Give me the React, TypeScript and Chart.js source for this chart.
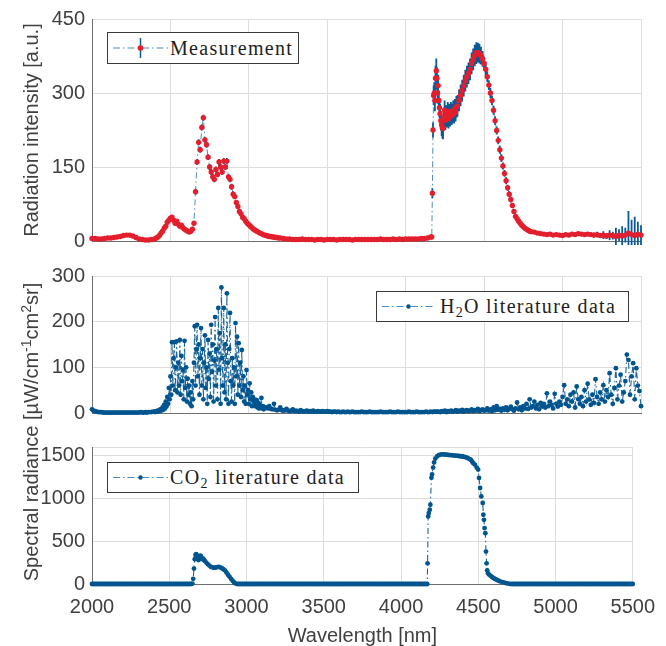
import React, { useEffect, useRef } from 'react';
import { Chart, registerables } from 'chart.js';

Chart.register(...registerables);

const range = (start: number, end: number, step: number): number[] => {
  const out: number[] = [];
  for (let v = start; v <= end + 1e-9; v += step) out.push(Math.round(v * 100) / 100);
  return out;
};

// ---------- axis ticks ----------
const wlTicks = [2000, 2500, 3000, 3500, 4000, 4500, 5000, 5500];
const measTicks = [0, 150, 300, 450];
const h2oTicks = [0, 100, 200, 300];
const co2Ticks = [0, 500, 1000, 1500, 1600];

// ---------- Measurement (panel 1) ----------
const measSeg4Wl = [4166, 4170, 4174, 4178, 4182, 4186, 4190, 4195, 4199, 4203, 4207, 4211, 4215, 4219, 4224, 4229, 4234, 4238, 4243, 4248, 4253, 4258, 4263, 4268, 4273, 4278, 4283, 4288, 4293, 4298, 4303, 4308, 4313, 4318, 4323, 4330];
const measWl = [
  ...range(2000, 2400, 20),
  ...range(2410, 3200, 10),
  ...range(3220, 4160, 20),
  ...measSeg4Wl,
  ...range(4340, 4800, 10),
  ...range(4820, 5500, 20),
];
const measSeg1 = [5, 5, 4, 4, 5, 6, 6, 7, 8, 9, 11, 12, 12, 10, 7, 4, 3, 2, 2, 3, 4];
const measSeg2 = [
  6, 8, 11, 16, 20, 26, 30, 38, 42, 46,
  48, 42, 36, 40, 34, 30, 32, 27, 24, 22,
  20, 18, 20, 24, 36, 100, 160, 200, 185, 230,
  250, 205, 195, 170, 150, 140, 130, 125, 145, 135,
  160, 150, 140, 162, 150, 162, 130, 125, 110, 95,
  90, 78, 70, 60, 55, 48, 45, 40, 36, 33,
  30, 27, 24, 22, 20, 18, 16, 15, 13, 12,
  11, 10, 9, 9, 8, 8, 7, 7, 6, 6,
];
const measSeg3 = [
  5, 4, 4, 3, 3, 3, 4, 3, 3, 3,
  2, 3, 3, 2, 3, 3, 3, 2, 3, 3,
  3, 3, 2, 3, 3, 3, 3, 3, 3, 3,
  3, 4, 3, 3, 3, 4, 3, 4, 3, 4,
  4, 4, 4, 4, 5, 5, 6, 8,
];
const measSeg4 = [
  8, 97, 225, 295, 300, 285, 330, 345, 330, 300,
  315, 285, 270, 258, 244, 235, 230, 228, 250, 265,
  245, 255, 250, 262, 248, 258, 252, 262, 255, 258,
  265, 258, 268, 262, 272, 274,
];
const measSeg5 = [
  285, 295, 305, 315, 325, 333, 340, 348, 360, 368,
  376, 381, 382, 380, 376, 369, 360, 348, 333, 316,
  300, 285, 265, 244, 224, 204, 185, 168, 152, 137,
  122, 108, 95, 84, 72, 60, 50, 45, 40, 36,
  32, 29, 26, 24, 22, 20, 19,
];
const measSeg6 = [
  18, 16, 15, 14, 13, 14, 12, 13, 12, 11,
  13, 12, 14, 13, 15, 14, 13, 14, 13, 12,
  13, 11, 12, 10, 12, 11, 9, 12, 10, 12,
  16, 13, 11, 14, 12,
];
const measVal = [...measSeg1, ...measSeg2, ...measSeg3, ...measSeg4, ...measSeg5, ...measSeg6];

const errSeg1 = [2, 2, 2, 2, 2, 2, 2, 2, 2, 2, 2, 2, 2, 2, 2, 2, 2, 2, 2, 2, 2];
const errSeg2 = [
  3, 3, 3, 3, 3, 3, 3, 3, 3, 3,
  3, 3, 3, 3, 3, 3, 3, 3, 3, 3,
  3, 3, 3, 3, 3, 6, 6, 6, 6, 6,
  6, 6, 6, 6, 6, 6, 6, 6, 6, 6,
  6, 6, 6, 6, 6, 6, 6, 6, 6, 6,
  3, 3, 3, 3, 3, 3, 3, 3, 3, 3,
  3, 3, 3, 3, 3, 3, 3, 3, 3, 3,
  3, 3, 3, 3, 3, 3, 3, 3, 3, 3,
];
const errSeg3 = [
  2, 2, 2, 2, 2, 2, 2, 2, 2, 2,
  2, 2, 2, 2, 2, 2, 2, 2, 2, 2,
  2, 2, 2, 2, 2, 2, 2, 2, 2, 2,
  2, 2, 2, 2, 2, 2, 2, 2, 2, 2,
  2, 2, 2, 2, 2, 2, 2, 2,
];
const errSeg4 = [
  2, 10, 15, 20, 22, 22, 25, 25, 22, 22,
  22, 20, 20, 20, 20, 22, 22, 22, 20, 20,
  20, 20, 20, 20, 20, 20, 20, 20, 20, 20,
  20, 20, 20, 20, 22, 22,
];
const errSeg5 = [
  22, 22, 22, 22, 22, 22, 22, 22, 22, 22,
  22, 22, 20, 20, 18, 16, 14, 12, 11, 10,
  10, 10, 9, 9, 8, 8, 8, 8, 7, 7,
  7, 6, 6, 6, 5, 5, 5, 4, 4, 4,
  4, 4, 4, 4, 4, 4, 4,
];
const errSeg6 = [
  4, 4, 3, 3, 3, 3, 3, 3, 3, 3,
  3, 3, 3, 3, 4, 3, 3, 4, 4, 5,
  6, 5, 8, 6, 10, 8, 18, 12, 20, 15,
  45, 30, 38, 25, 20,
];
const measErr = [...errSeg1, ...errSeg2, ...errSeg3, ...errSeg4, ...errSeg5, ...errSeg6];

// ---------- H2O literature (panel 2) ----------
const h2oWl = [
  ...range(2000, 2390, 10),
  ...range(2400, 3100, 5),
  ...range(3110, 4200, 10),
  ...range(4210, 5500, 10),
];
const h2oSegA = [
  8, 5, 4, 3, 2, 2, 2, 1, 1, 1,
  1, 1, 1, 1, 1, 1, 1, 1, 1, 1,
  1, 1, 1, 1, 1, 1, 1, 1, 1, 1,
  1, 2, 1, 1, 2, 1, 2, 2, 2, 3,
];
const h2oSegB = [
  3, 2, 4, 3, 5, 4, 6, 8, 5, 9,
  12, 7, 18, 10, 25, 14, 35, 20, 55, 30,
  80, 40, 155, 60, 120, 155, 50, 100, 157, 45,
  110, 60, 160, 40, 125, 70, 95, 30, 158, 55,
  100, 25, 75, 40, 60, 20, 45, 15, 70, 30,
  110, 190, 60, 140, 193, 80, 150, 40, 120, 186,
  60, 140, 30, 110, 170, 55, 100, 20, 160, 75,
  130, 35, 193, 90, 150, 25, 115, 210, 60, 140,
  30, 230, 95, 175, 20, 275, 120, 60, 230, 45,
  150, 30, 262, 110, 20, 140, 219, 70, 25, 120,
  60, 100, 20, 197, 80, 167, 40, 153, 60, 110,
  35, 138, 50, 80, 25, 60, 20, 94, 40, 50,
  20, 65, 30, 45, 15, 35, 25, 30, 15, 20,
  28, 12, 22, 10, 18, 14, 33, 10, 15, 8,
  12,
];
const h2oSegC = [
  12, 10, 15, 9, 8, 20, 7, 6, 7, 12,
  6, 5, 6, 9, 5, 4, 5, 8, 4, 5,
  4, 3, 6, 4, 3, 4, 5, 3, 4, 3,
  5, 3, 3, 4, 3, 3, 4, 3, 3, 4,
  3, 3, 2, 3, 3, 2, 3, 2, 2, 3,
  2, 2, 3, 2, 2, 3, 2, 2, 2, 2,
  2, 3, 2, 2, 2, 2, 3, 2, 2, 2,
  2, 2, 2, 3, 2, 2, 2, 2, 2, 3,
  2, 2, 2, 2, 3, 2, 2, 2, 2, 2,
  2, 3, 2, 2, 2, 2, 3, 2, 2, 2,
  2, 2, 3, 2, 2, 3, 2, 3, 3, 3,
];
const h2oSegD = [
  3, 2, 4, 3, 5, 2, 4, 3, 5, 3,
  4, 6, 3, 5, 4, 7, 3, 5, 6, 4,
  5, 8, 4, 6, 5, 9, 4, 6, 8, 5,
  6, 10, 5, 8, 4, 12, 6, 15, 7, 9,
  5, 10, 7, 12, 6, 9, 14, 8, 5, 10,
  23, 8, 12, 6, 15, 10, 20, 9, 30, 12,
  15, 25, 10, 18, 8, 22, 14, 20, 12, 43,
  15, 25, 18, 10, 42, 20, 14, 25, 18, 35,
  61, 20, 30, 15, 40, 25, 45, 12, 58, 30,
  20, 35, 15, 50, 25, 64, 30, 18, 40, 22,
  74, 35, 20, 45, 30, 61, 25, 50, 35, 87,
  40, 20, 55, 98, 30, 60, 84, 25, 45, 70,
  128, 116, 40, 80, 109, 30, 98, 60, 48, 15,
];
const h2oVal = [...h2oSegA, ...h2oSegB, ...h2oSegC, ...h2oSegD];

// ---------- CO2 literature (panel 3) ----------
const co2SegBWl = [2650, 2655, 2660, 2665, 2670, 2675, 2680, 2685, 2690, 2695, 2700, 2705, 2710, 2715, 2720, 2725, 2730, 2740, 2750, 2760, 2770, 2780, 2790, 2800, 2810, 2820, 2830, 2840, 2850, 2860, 2870, 2880, 2890, 2900, 2910, 2920, 2930, 2940];
const co2SegDWl = [
  4170, 4172, 4176, 4180, 4186, 4190, 4197, 4201, 4208, 4214, 4222, 4233, 4245,
  ...range(4255, 4445, 10),
  4452, 4460, 4468, 4478, 4490, 4499, 4505, 4512, 4520, 4529,
  4533, 4537, 4541, 4546, 4550, 4554, 4558, 4563, 4570, 4580,
  4590, 4600, 4610, 4622, 4635, 4650, 4665, 4680, 4695, 4710,
];
const co2Wl = [
  ...range(2000, 2640, 10),
  ...co2SegBWl,
  ...range(2950, 4160, 10),
  ...co2SegDWl,
  ...range(4720, 5500, 10),
];
// 2000–2640 nm (65 samples): flat baseline
const co2SegA = [
  0, 0, 0, 0, 0, 0, 0, 0, 0, 0,
  0, 0, 0, 0, 0, 0, 0, 0, 0, 0,
  0, 0, 0, 0, 0, 0, 0, 0, 0, 0,
  0, 0, 0, 0, 0, 0, 0, 0, 0, 0,
  0, 0, 0, 0, 0, 0, 0, 0, 0, 0,
  0, 0, 0, 0, 0, 0, 0, 0, 0, 0,
  0, 0, 0, 0, 0,
];
const co2SegB = [
  5, 60, 180, 290, 340, 350, 320, 290, 280, 300,
  330, 325, 300, 290, 295, 280, 270, 250, 230, 215,
  200, 195, 190, 192, 198, 200, 195, 185, 172, 160,
  135, 108, 85, 60, 38, 18, 5, 0,
];
// 2950–4160 nm (122 samples): flat baseline
const co2SegC = [
  0, 0, 0, 0, 0, 0, 0, 0, 0, 0,
  0, 0, 0, 0, 0, 0, 0, 0, 0, 0,
  0, 0, 0, 0, 0, 0, 0, 0, 0, 0,
  0, 0, 0, 0, 0, 0, 0, 0, 0, 0,
  0, 0, 0, 0, 0, 0, 0, 0, 0, 0,
  0, 0, 0, 0, 0, 0, 0, 0, 0, 0,
  0, 0, 0, 0, 0, 0, 0, 0, 0, 0,
  0, 0, 0, 0, 0, 0, 0, 0, 0, 0,
  0, 0, 0, 0, 0, 0, 0, 0, 0, 0,
  0, 0, 0, 0, 0, 0, 0, 0, 0, 0,
  0, 0, 0, 0, 0, 0, 0, 0, 0, 0,
  0, 0, 0, 0, 0, 0, 0, 0, 0, 0,
  0, 0,
];
const co2SegD = [
  0, 242, 789, 828, 867, 926, 1240, 1280, 1360, 1420, 1465, 1490, 1505,
  1512, 1515, 1514, 1512, 1510, 1508, 1506, 1505, 1503, 1500,
  1500, 1497, 1495, 1492, 1490, 1486, 1482, 1476, 1468, 1458,
  1450, 1430, 1410, 1395, 1360, 1336, 1239, 1121, 1023, 946,
  809, 750, 653, 594, 379, 242, 160, 125, 110, 95,
  80, 68, 58, 47, 35, 25, 18, 10, 4, 0,
];
// 4720–5500 nm (79 samples): flat baseline
const co2SegE = [
  0, 0, 0, 0, 0, 0, 0, 0, 0, 0,
  0, 0, 0, 0, 0, 0, 0, 0, 0, 0,
  0, 0, 0, 0, 0, 0, 0, 0, 0, 0,
  0, 0, 0, 0, 0, 0, 0, 0, 0, 0,
  0, 0, 0, 0, 0, 0, 0, 0, 0, 0,
  0, 0, 0, 0, 0, 0, 0, 0, 0, 0,
  0, 0, 0, 0, 0, 0, 0, 0, 0, 0,
  0, 0, 0, 0, 0, 0, 0, 0, 0,
];
const co2Val = [...co2SegA, ...co2SegB, ...co2SegC, ...co2SegD, ...co2SegE];

// ---------- styling ----------
const W = 666;
const H = 646;
const PLOT_LEFT = 92;
const PLOT_RIGHT = 641;
const SANS = '"Liberation Sans", Arial, Helvetica, sans-serif';
const SERIF = '"Liberation Serif", "Times New Roman", serif';
const TEXT = '#404040';
const GRID = '#dedede';
const AXIS = '#6e6e6e';
const BLUE = '#00558f';
const RED = '#e31f2d';

const fmt = (v: any) => String(v);

function xScale(showTicks: boolean, axisHeight: number) {
  return {
    type: 'linear',
    offset: false,
    min: wlTicks[0],
    max: wlTicks[wlTicks.length - 1],
    afterBuildTicks: (s: any) => { s.ticks = wlTicks.map((v) => ({ value: v })); },
    ticks: {
      display: showTicks,
      color: TEXT,
      font: { family: SANS, size: 20 },
      padding: 11,
      maxRotation: 0,
      autoSkip: false,
      callback: fmt,
    },
    grid: { color: GRID, lineWidth: 1, drawTicks: false, offset: false },
    border: { display: true, color: AXIS, width: 1 },
    title: showTicks
      ? { display: true, text: 'Wavelength [nm]', color: TEXT, font: { family: SANS, size: 20, lineHeight: 1 }, padding: { top: 0, bottom: 0 } }
      : { display: false },
    afterFit: (s: any) => { s.height = axisHeight; },
  };
}

function yScale(ticks: number[], label: (v: any) => string, title?: string) {
  return {
    type: 'linear',
    min: ticks[0],
    max: ticks[ticks.length - 1],
    afterBuildTicks: (s: any) => { s.ticks = ticks.map((v) => ({ value: v })); },
    ticks: { color: TEXT, font: { family: SANS, size: 20 }, padding: 7, callback: label },
    grid: { color: GRID, lineWidth: 1, drawTicks: false },
    border: { display: true, color: AXIS, width: 1 },
    title: title
      ? { display: true, text: title, color: TEXT, font: { family: SANS, size: 20, lineHeight: 1.2 }, padding: { top: 20, bottom: 0 } }
      : { display: false },
    afterFit: (s: any) => { s.width = PLOT_LEFT; },
  };
}

function baseOptions(top: number, bottom: number, x: any, y: any) {
  return {
    responsive: false,
    maintainAspectRatio: false,
    animation: false,
    events: [],
    devicePixelRatio: 1,
    layout: { padding: { left: 0, right: W - PLOT_RIGHT, top, bottom } },
    plugins: { legend: { display: false }, tooltip: { enabled: false } },
    scales: { x, y },
  };
}

function measConfig(): any {
  // error bars: vertical segments (lo -> hi) separated by gaps
  const errData: any[] = [];
  measWl.forEach((x, i) => {
    errData.push({ x, y: measVal[i] - measErr[i] });
    errData.push({ x, y: measVal[i] + measErr[i] });
    errData.push({ x, y: null });
  });
  return {
    type: 'line',
    data: {
      datasets: [
        {
          label: 'error',
          data: errData,
          borderColor: '#0b5a95',
          borderWidth: 1.8,
          pointRadius: 0,
          spanGaps: false,
          tension: 0,
          order: 2,
          clip: 4,
        },
        {
          label: 'Measurement',
          data: measWl.map((x, i) => ({ x, y: measVal[i] })),
          borderColor: 'rgba(20,100,170,0.75)',
          borderWidth: 1,
          borderDash: [6, 3, 1.5, 3],
          pointRadius: 2.7,
          pointBackgroundColor: RED,
          pointBorderColor: RED,
          pointBorderWidth: 0,
          tension: 0,
          order: 1,
          clip: 4,
        },
      ],
    },
    options: baseOptions(18, H - 241 - 14, xScale(false, 14), yScale(measTicks, fmt, 'Radiation intensity [a.u.]')),
  };
}

function litConfig(wl: number[], vals: number[], label: string, top: number, bottom: number, xh: number, showX: boolean, ticks: number[], lab: (v: any) => string): any {
  return {
    type: 'line',
    data: {
      datasets: [
        {
          label,
          data: wl.map((x, i) => ({ x, y: vals[i] })),
          borderColor: 'rgba(0,85,143,0.9)',
          borderWidth: 1.1,
          borderDash: [6, 3, 1.5, 3],
          pointRadius: 2.4,
          pointBackgroundColor: BLUE,
          pointBorderColor: BLUE,
          pointBorderWidth: 0,
          tension: 0,
          clip: 4,
        },
      ],
    },
    options: baseOptions(top, bottom, xScale(showX, xh), yScale(ticks, lab)),
  };
}

type LegendProps = {
  left: number; top: number; width: number; height: number;
  sampleLeft: number; sampleWidth: number; textLeft: number;
  errorbar?: boolean; markerColor: string; markerR: number;
  children: React.ReactNode;
};

function LegendBox(p: LegendProps) {
  const inner = p.height - 2;
  const mid = inner / 2;
  const cx = p.sampleWidth / 2;
  return (
    <div style={{ position: 'absolute', left: p.left, top: p.top, width: p.width, height: p.height, boxSizing: 'border-box', border: '1px solid #3a3a3a', background: '#fff' }}>
      <svg style={{ position: 'absolute', left: p.sampleLeft, top: 0 }} width={p.sampleWidth} height={inner}>
        <line x1={0} x2={p.sampleWidth} y1={mid} y2={mid} stroke="#4a8cc4" strokeWidth={1.2} strokeDasharray="7 3 1.5 3" />
        {p.errorbar ? <line x1={cx} x2={cx} y1={mid - 10} y2={mid + 10} stroke="#0b5a95" strokeWidth={1.5} /> : null}
        <circle cx={cx} cy={mid} r={p.markerR} fill={p.markerColor} />
      </svg>
      <div style={{ position: 'absolute', left: p.textLeft, top: 0, height: inner, lineHeight: inner + 'px', fontFamily: SERIF, fontSize: 20, letterSpacing: '1.3px', color: '#1e1e1e', whiteSpace: 'nowrap' }}>
        {p.children}
      </div>
    </div>
  );
}

const subStyle: React.CSSProperties = { fontSize: '0.7em', verticalAlign: 'baseline', position: 'relative', top: '0.28em' };
const supStyle: React.CSSProperties = { fontSize: '0.7em', verticalAlign: 'baseline', position: 'relative', top: '-0.5em' };

export default function App() {
  const c1 = useRef<HTMLCanvasElement>(null);
  const c2 = useRef<HTMLCanvasElement>(null);
  const c3 = useRef<HTMLCanvasElement>(null);

  useEffect(() => {
    const charts: Chart[] = [];
    if (c1.current) charts.push(new Chart(c1.current, measConfig()));
    if (c2.current) charts.push(new Chart(c2.current, litConfig(h2oWl, h2oVal, 'H2O literature data', 276, H - 413 - 14, 14, false, h2oTicks, fmt)));
    if (c3.current) charts.push(new Chart(c3.current, litConfig(co2Wl, co2Val, 'CO2 literature data', 447, 0, H - 584, true, co2Ticks, (v: any) => (v === 1600 ? '' : String(v)))));
    return () => charts.forEach((c) => c.destroy());
  }, []);

  const canvasStyle: React.CSSProperties = { position: 'absolute', left: 0, top: 0, width: W, height: H };
  const titleW = 340;
  const titleH = 24;

  return (
    <div style={{ position: 'absolute', left: 0, top: 0, width: W, height: H, background: '#fff', overflow: 'hidden' }}>
      <canvas ref={c1} width={W} height={H} style={canvasStyle} />
      <canvas ref={c2} width={W} height={H} style={canvasStyle} />
      <canvas ref={c3} width={W} height={H} style={canvasStyle} />

      <div style={{ position: 'absolute', left: 31 - titleW / 2, top: 432 - titleH / 2, width: titleW, height: titleH, lineHeight: titleH + 'px', textAlign: 'center', transform: 'rotate(-90deg)', whiteSpace: 'nowrap', fontFamily: SANS, fontSize: 20, color: TEXT }}>
        Spectral radiance [µW/cm<span style={supStyle}>-1</span>cm<span style={supStyle}>2</span>sr]
      </div>

      <LegendBox left={107} top={32} width={192} height={32} sampleLeft={5} sampleWidth={55} textLeft={62} errorbar markerColor={RED} markerR={2.8}>
        Measurement
      </LegendBox>
      <LegendBox left={376} top={291} width={253} height={31} sampleLeft={5} sampleWidth={53} textLeft={63} markerColor={BLUE} markerR={2.2}>
        H<span style={subStyle}>2</span>O literature data
      </LegendBox>
      <LegendBox left={107} top={462} width={252} height={31} sampleLeft={5} sampleWidth={55} textLeft={62} markerColor={BLUE} markerR={2.2}>
        CO<span style={subStyle}>2</span> literature data
      </LegendBox>
    </div>
  );
}
